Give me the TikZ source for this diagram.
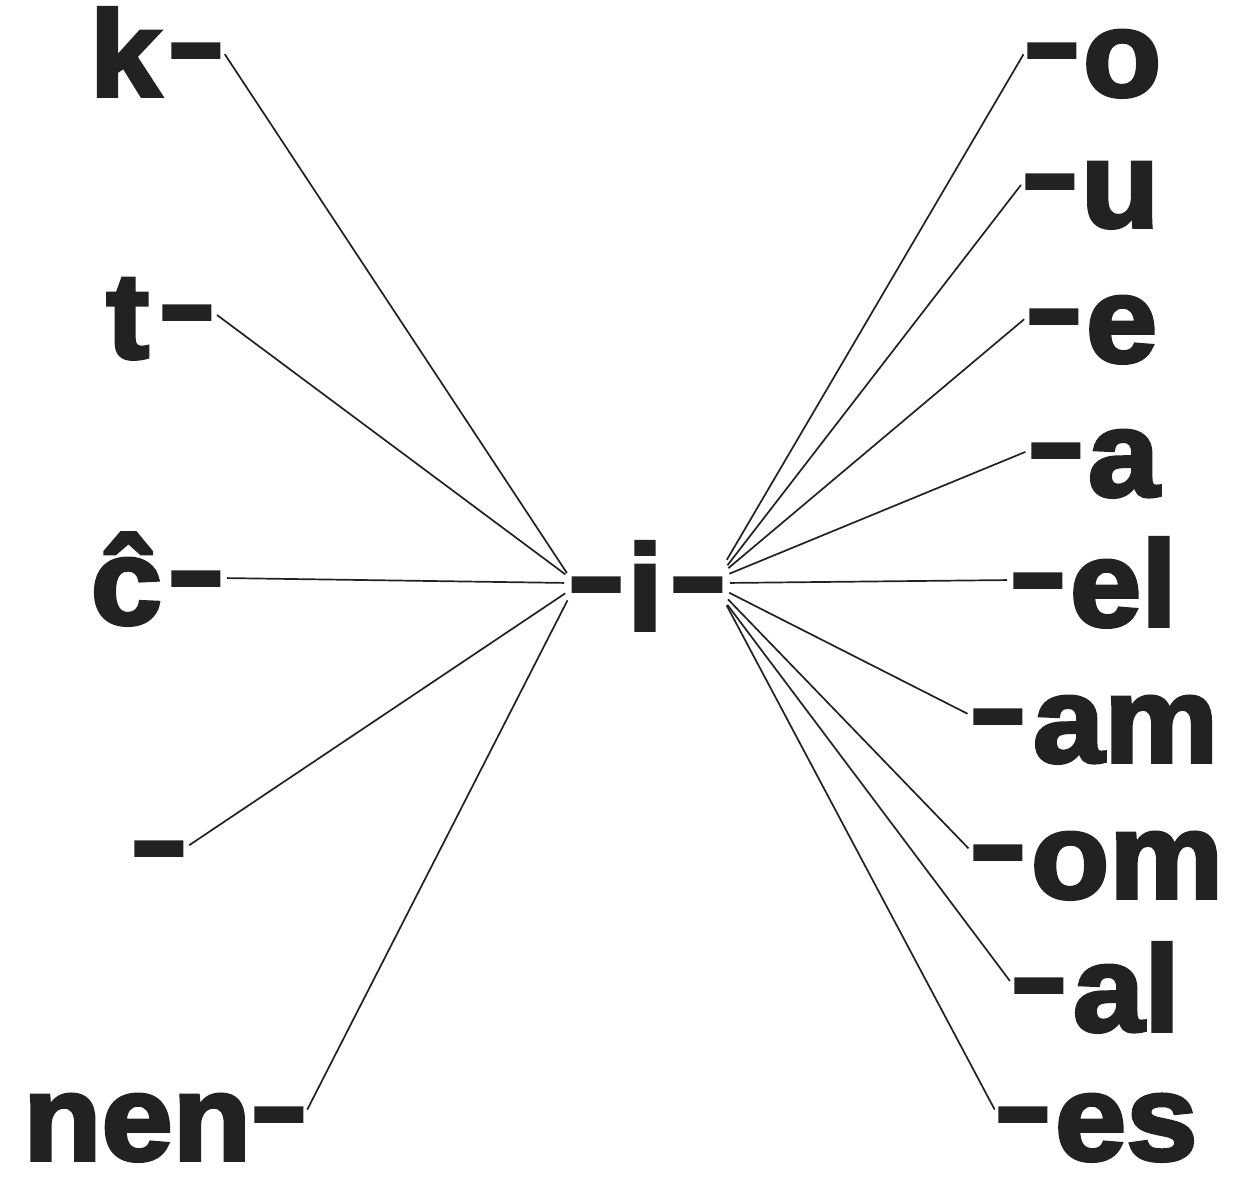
\documentclass[tikz,border=0pt]{standalone}
\usepackage{fontspec,graphicx}
\newfontfamily\heavyfont{Liberation Sans Bold}[FakeBold=3,FakeStretch=1.05]
\definecolor{ink}{RGB}{34,34,34}
\newcommand{\mdsh}{\raisebox{11pt}{\scalebox{0.73}[1.05]{–}}}
\usetikzlibrary{positioning}

\begin{document}
\begin{tikzpicture}[x=1pt,y=-1pt]
  \tikzset{
    morph/.style={font=\heavyfont\fontsize{122}{122}\selectfont,text=ink,inner sep=0pt,outer sep=0pt,text height=92pt,text depth=0pt},
    link/.style={line width=1.7pt,ink,shorten <=5pt,shorten >=6pt}
  }
  \useasboundingbox (0,0) rectangle (1234,1176);
  % centre
  \node[morph] (i) at (647,584) {\mdsh\kern5pt i\kern9pt\mdsh};
  % prefixes
  \node[morph,anchor=east] (k) at (222,50) {k\kern9pt\mdsh};
  \node[morph,anchor=east] (t) at (213,312) {t\kern12pt\mdsh};
  \node[morph,anchor=east] (c) at (222,578) {ĉ\kern8pt\mdsh};
  \node[morph,anchor=east] (bare) at (185,848) {\mdsh};
  \node[morph,anchor=east] (nen) at (305,1114) {nen\kern2pt\mdsh};
  % endings
  \node[morph,anchor=west] (o) at (1026,50) {\mdsh\kern5pt o};
  \node[morph,anchor=west] (u) at (1024,181) {\mdsh\kern5pt u};
  \node[morph,anchor=west] (e) at (1028,316) {\mdsh\kern6pt e};
  \node[morph,anchor=west] (a) at (1030,450) {\mdsh\kern6pt a};
  \node[morph,anchor=west] (el) at (1012,580) {\mdsh\kern6pt el};
  \node[morph,anchor=west] (am) at (972,716) {\mdsh\kern9pt am};
  \node[morph,anchor=west] (om) at (972,852) {\mdsh\kern7pt om};
  \node[morph,anchor=west] (al) at (1013,985) {\mdsh\kern8pt al};
  \node[morph,anchor=west] (es) at (997,1114) {\mdsh\kern6pt es};
  \foreach \n/\s in {k/6,t/6,c/1,bare/-6,nen/-11}
    \draw[link] (\n.east) -- ([yshift=\s pt]i.west);
  \foreach \n/\s in {o/19,u/14,e/12,a/8,el/1,am/-6,om/-11,al/-16,es/-16}
    \draw[link] (\n.west) -- ([yshift=\s pt]i.east);
\end{tikzpicture}
\end{document}
